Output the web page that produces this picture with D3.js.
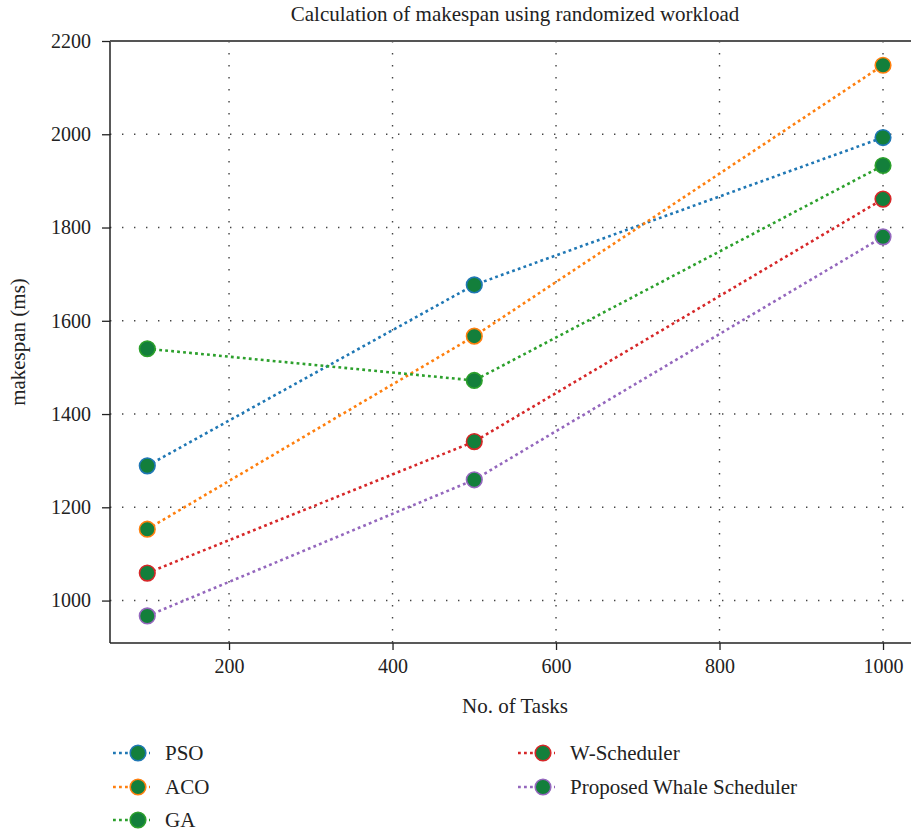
<!DOCTYPE html>
<html>
<head>
<meta charset="utf-8">
<script src="https://cdn.jsdelivr.net/npm/d3@7.9.0/dist/d3.min.js"></script>
<style>
  body { margin: 0; background: #fff; }
  svg { display: block; font-family: "Liberation Serif", "DejaVu Serif", serif; }
</style>
</head>
<body>
<div id="chart"></div>
<script>
// ---- data ----
const tasks = [100, 500, 1000];
const seriesNames = ['PSO', 'ACO', 'GA', 'W-Scheduler', 'Proposed Whale Scheduler'];
const seriesColors = ['#1f77b4', '#ff7f0e', '#2ca02c', '#d62728', '#9467bd'];
const psoValues = [1289, 1677, 1993];
const acoValues = [1153, 1567, 2148];
const gaValues = [1540, 1472, 1933];
const wValues = [1059, 1341, 1861];
const whaleValues = [967, 1259, 1780];
const xTicks = [200, 400, 600, 800, 1000];
const yTicks = [1000, 1200, 1400, 1600, 1800, 2000, 2200];

const allValues = [psoValues, acoValues, gaValues, wValues, whaleValues];
const series = seriesNames.map((name, i) => ({
  name,
  color: seriesColors[i],
  points: tasks.map((t, j) => ({ x: t, y: allValues[i][j] })),
}));

// ---- layout ----
const width = 911;
const height = 833;
const markerFill = '#137f3b';

const svg = d3.select('#chart').append('svg')
  .attr('width', width)
  .attr('height', height);

const xScale = d3.scaleLinear().domain([55, 1045]).range([110.5, 919.8]);
const yScale = d3.scaleLinear().domain([909, 2200]).range([643, 41]);

// grid
const grid = svg.append('g').attr('class', 'grid');
grid.selectAll('line.gx')
  .data(xTicks)
  .join('line')
  .attr('x1', (d) => xScale(d)).attr('x2', (d) => xScale(d))
  .attr('y1', 41).attr('y2', 643)
  .attr('stroke', '#444').attr('stroke-width', 1.4)
  .attr('stroke-dasharray', '1.4,10.6');
grid.selectAll('line.gy')
  .data(yTicks.filter((d) => d < 2200))
  .join('line')
  .attr('x1', 110).attr('x2', width)
  .attr('y1', (d) => yScale(d)).attr('y2', (d) => yScale(d))
  .attr('stroke', '#444').attr('stroke-width', 1.4)
  .attr('stroke-dasharray', '1.4,10.6');

// axes
const fmt = d3.format('d');
const xAxis = svg.append('g')
  .attr('transform', 'translate(0,643)')
  .call(d3.axisBottom(xScale).tickValues(xTicks).tickFormat(fmt).tickSize(7).tickPadding(9));
const yAxis = svg.append('g')
  .attr('transform', 'translate(110,0)')
  .call(d3.axisLeft(yScale).tickValues(yTicks).tickFormat(fmt).tickSize(8).tickPadding(11));

[xAxis, yAxis].forEach((ax) => {
  ax.select('.domain').remove();
  ax.selectAll('.tick line').attr('stroke', '#222').attr('stroke-width', 1.3);
  ax.selectAll('.tick text')
    .attr('fill', '#222')
    .style('font-size', '20px')
    .style('font-family', '"Liberation Serif", serif');
});

// spines
svg.append('line').attr('x1', 110).attr('x2', width).attr('y1', 643).attr('y2', 643)
  .attr('stroke', '#222').attr('stroke-width', 1.5);
svg.append('line').attr('x1', 110).attr('x2', 110).attr('y1', 41).attr('y2', 643)
  .attr('stroke', '#222').attr('stroke-width', 1.5);
svg.append('line').attr('x1', 110).attr('x2', width).attr('y1', 41).attr('y2', 41)
  .attr('stroke', '#555').attr('stroke-width', 2);

// lines + markers
const line = d3.line().x((d) => xScale(d.x)).y((d) => yScale(d.y));
const sg = svg.append('g').selectAll('g')
  .data(series)
  .join('g');

sg.append('path')
  .attr('d', (d) => line(d.points))
  .attr('fill', 'none')
  .attr('stroke', (d) => d.color)
  .attr('stroke-width', 2.6)
  .attr('stroke-dasharray', '2.8,3.2');

sg.selectAll('circle')
  .data((d) => d.points.map((p) => ({ ...p, color: d.color })))
  .join('circle')
  .attr('cx', (d) => xScale(d.x))
  .attr('cy', (d) => yScale(d.y))
  .attr('r', 7.8)
  .attr('fill', markerFill)
  .attr('stroke', (d) => d.color)
  .attr('stroke-width', 1.6);

// title and labels
svg.append('text')
  .attr('x', 515).attr('y', 21)
  .attr('text-anchor', 'middle')
  .attr('fill', '#222')
  .style('font-size', '21px')
  .text('Calculation of makespan using randomized workload');

svg.append('text')
  .attr('x', 515).attr('y', 713)
  .attr('text-anchor', 'middle')
  .attr('fill', '#222')
  .style('font-size', '21px')
  .text('No. of Tasks');

svg.append('text')
  .attr('transform', 'translate(25,342) rotate(-90)')
  .attr('text-anchor', 'middle')
  .attr('fill', '#222')
  .style('font-size', '21px')
  .text('makespan (ms)');

// legend
const legendPos = [
  [138, 753], [138, 787], [138, 820], [543, 753], [543, 787],
];
const lg = svg.append('g').selectAll('g')
  .data(series)
  .join('g')
  .attr('transform', (d, i) => `translate(${legendPos[i][0]},${legendPos[i][1]})`);

lg.append('line')
  .attr('x1', -25).attr('x2', 12)
  .attr('stroke', (d) => d.color)
  .attr('stroke-width', 2.6)
  .attr('stroke-dasharray', '2.8,3.2');
lg.append('circle')
  .attr('r', 7.8)
  .attr('fill', markerFill)
  .attr('stroke', (d) => d.color)
  .attr('stroke-width', 1.6);
lg.append('text')
  .attr('x', 27).attr('dy', '0.35em')
  .attr('fill', '#222')
  .style('font-size', '21px')
  .text((d) => d.name);
</script>
</body>
</html>
